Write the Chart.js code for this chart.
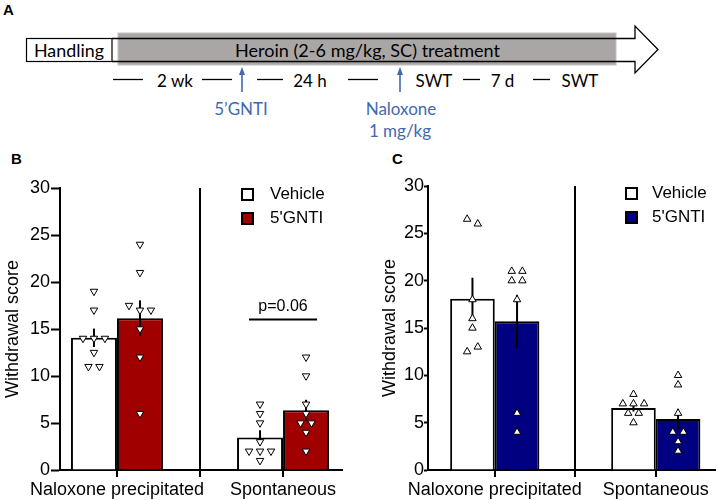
<!DOCTYPE html>
<html><head><meta charset="utf-8">
<script src="https://cdn.jsdelivr.net/npm/chart.js@4.4.0/dist/chart.umd.min.js"></script>
<style>
html,body{margin:0;padding:0;background:#fff;}
body{width:720px;height:500px;position:relative;overflow:hidden;font-family:"Liberation Sans",Arial,sans-serif;color:#000;}
.pl{position:absolute;font-weight:bold;font-size:15px;line-height:15px;}
canvas{position:absolute;}
.sq{position:absolute;width:13px;height:13px;box-sizing:border-box;border:2px solid #000;}
.lt{position:absolute;font-size:17px;line-height:20px;white-space:nowrap;}
#svgA{position:absolute;left:0;top:0;}
</style></head>
<body>
<svg id="svgA" width="720" height="150" xmlns="http://www.w3.org/2000/svg">
  <rect x="118" y="33" width="498" height="32" fill="#aaa6a6" stroke="#c4c2c2" stroke-width="1"/>
  <rect x="26.5" y="38.5" width="85.5" height="23" fill="#fff" stroke="#000" stroke-width="1.2"/>
  <path d="M112,38.5 H635 V26 L658,49.5 L635,73 V61.5 H112" fill="none" stroke="#000" stroke-width="1.3"/>
  <g font-family="Lato, 'Open Sans', sans-serif" fill="#000">
    <text x="69" y="56.5" font-size="18" text-anchor="middle" textLength="70" lengthAdjust="spacingAndGlyphs">Handling</text>
    <text x="367.5" y="56.5" font-size="18" text-anchor="middle" textLength="265" lengthAdjust="spacingAndGlyphs">Heroin (2-6 mg/kg, SC) treatment</text>
    <text x="175" y="86.5" font-size="17" text-anchor="middle">2 wk</text>
    <text x="310" y="86.5" font-size="17" text-anchor="middle">24 h</text>
    <text x="434" y="86.5" font-size="17" text-anchor="middle">SWT</text>
    <text x="502.5" y="86.5" font-size="17" text-anchor="middle">7 d</text>
    <text x="580" y="86.5" font-size="17" text-anchor="middle">SWT</text>
  </g>
  <g stroke="#000" stroke-width="1.3">
    <line x1="113" y1="79.5" x2="143" y2="79.5"/>
    <line x1="202" y1="79.5" x2="232" y2="79.5"/>
    <line x1="257" y1="79.5" x2="283" y2="79.5"/>
    <line x1="348" y1="79.5" x2="378" y2="79.5"/>
    <line x1="463" y1="79.5" x2="480" y2="79.5"/>
    <line x1="533" y1="79.5" x2="550" y2="79.5"/>
  </g>
  <g stroke="#4169b0" stroke-width="1.6" fill="#4169b0">
    <line x1="242" y1="92" x2="242" y2="72"/>
    <path d="M242,67 L245,75 L239,75 Z" stroke="none"/>
    <line x1="400" y1="92" x2="400" y2="72"/>
    <path d="M400,67 L403,75 L397,75 Z" stroke="none"/>
  </g>
  <g font-family="Lato, 'Open Sans', sans-serif" fill="#4169b0" font-size="17" text-anchor="middle">
    <text x="241" y="115">5’GNTI</text>
    <text x="401" y="115">Naloxone</text>
    <text x="400" y="137">1 mg/kg</text>
  </g>
</svg>
<div class="pl" style="left:3px;top:2px;">A</div>
<div class="pl" style="left:11px;top:151px;">B</div>
<div class="pl" style="left:392px;top:151px;">C</div>

<canvas id="cB" width="360" height="330" style="left:0;top:170px;"></canvas>
<canvas id="cC" width="360" height="330" style="left:360px;top:170px;"></canvas>

<div class="sq" style="left:241px;top:188px;background:#fff;"></div>
<div class="lt" style="left:270px;top:184px;">Vehicle</div>
<div class="sq" style="left:241px;top:212px;background:#a00000;"></div>
<div class="lt" style="left:270px;top:208px;">5'GNTI</div>

<div class="sq" style="left:625px;top:187px;background:#fff;"></div>
<div class="lt" style="left:652px;top:183px;">Vehicle</div>
<div class="sq" style="left:625px;top:211px;background:#000080;"></div>
<div class="lt" style="left:652px;top:207px;">5'GNTI</div>

<script>
// ---------- data ----------
const categories = ['Naloxone precipitated', 'Spontaneous'];
const groups = ['Vehicle', "5'GNTI"];
const yTicks = [0, 5, 10, 15, 20, 25, 30];

// Panel B
const bVehicleMean = [14.06, 3.45];
const bVehicleSem  = [0.98, 0.78];
const bGntiMean    = [16.15, 6.35];
const bGntiSem     = [1.9, 1.12];
const bVehiclePts  = [[19, 17, 14, 14, 14, 12.5, 11, 11], [7, 6, 5, 3, 2, 2, 2, 1]];
const bGntiPts     = [[24, 21, 17.5, 17, 17, 15, 12, 6], [12, 10, 7, 6, 5, 5, 4, 2]];
const bPText = 'p=0.06';
const bPLevel = 16;

// Panel C
const cVehicleMean = [18.1, 6.55];
const cVehicleSem  = [2.2, 0.37];
const cGntiMean    = [15.7, 5.4];
const cGntiSem     = [2.8, 1.08];
const cVehiclePts  = [[26.5, 26, 18, 16, 15, 12.5, 13], [8, 7, 7, 7, 6, 6, 5]];
const cGntiPts     = [[21, 21, 20, 20, 18, 6, 4], [10, 9, 6, 4, 4, 3, 2]];

// ---------- layout / style ----------
const BAR_W = 0.277;     // bar width in x units
const SLOT = 0.066;      // horizontal spacing of coinciding points (x units)
const CLOSE = 0.8;       // values closer than this are spread side by side
const FONT = '"Liberation Sans", Arial, sans-serif';

Chart.defaults.font.family = FONT;
Chart.defaults.color = '#000';

function swarm(values, center) {
  const out = [];
  let i = 0;
  while (i < values.length) {
    let j = i + 1;
    while (j < values.length && Math.abs(values[j] - values[j - 1]) < CLOSE) j++;
    const n = j - i;
    for (let k = 0; k < n; k++) out.push({x: center + (k - (n - 1) / 2) * SLOT, y: values[i + k]});
    i = j;
  }
  return out;
}

const annotPlugin = {
  id: 'annot',
  afterDatasetsDraw(chart, args, opts) {
    if (!opts || !opts.text) return;
    const {ctx, scales: {x, y}} = chart;
    const x0 = x.getPixelForValue(opts.center - opts.half);
    const x1 = x.getPixelForValue(opts.center + opts.half);
    const yy = y.getPixelForValue(opts.level);
    ctx.save();
    ctx.strokeStyle = '#000';
    ctx.lineWidth = 2;
    ctx.beginPath(); ctx.moveTo(x0, yy); ctx.lineTo(x1, yy); ctx.stroke();
    ctx.fillStyle = '#000';
    ctx.font = '16px ' + FONT;
    ctx.textAlign = 'center';
    ctx.textBaseline = 'alphabetic';
    ctx.fillText(opts.text, (x0 + x1) / 2, yy - 9);
    ctx.restore();
  }
};

function makePanel(id, p) {
  const datasets = [];
  const off = BAR_W / 2;
  datasets.push({
    type: 'bar', label: groups[0], order: 3,
    data: categories.map((c, i) => ({x: i, y: p.vMean[i]})),
    backgroundColor: '#fff', borderColor: '#000', borderWidth: 2, borderSkipped: 'bottom',
    categoryPercentage: 2 * BAR_W / 0.5, barPercentage: 1, inflateAmount: 0
  });
  datasets.push({
    type: 'bar', label: groups[1], order: 3,
    data: categories.map((c, i) => ({x: i, y: p.gMean[i]})),
    backgroundColor: p.fill, borderColor: '#000', borderWidth: 2, borderSkipped: 'bottom',
    categoryPercentage: 2 * BAR_W / 0.5, barPercentage: 1, inflateAmount: 0
  });
  categories.forEach((c, i) => {
    [[i - off, p.vMean[i], p.vSem[i]], [i + off, p.gMean[i], p.gSem[i]]].forEach(([cx, m, s]) => {
      datasets.push({
        type: 'line', order: 2,
        data: [{x: cx, y: m - s}, {x: cx, y: m + s}],
        borderColor: '#000', borderWidth: 2, pointRadius: 0, fill: false
      });
    });
  });
  categories.forEach((c, i) => {
    [[p.vPts[i], i - off], [p.gPts[i], i + off]].forEach(([vals, cx]) => {
      datasets.push({
        type: 'scatter', order: 1,
        data: swarm(vals, cx),
        pointStyle: 'triangle', rotation: p.rot, radius: 4.3,
        backgroundColor: '#fff', borderColor: '#000', borderWidth: 1
      });
    });
  });

  return new Chart(document.getElementById(id), {
    type: 'bar',
    data: {datasets},
    plugins: [annotPlugin],
    options: {
      responsive: false, animation: false, events: [],
      layout: {padding: p.pad},
      plugins: {legend: {display: false}, tooltip: {enabled: false}, annot: p.annot || {}},
      scales: {
        x: {
          type: 'linear', min: p.xmin, max: p.xmax, offset: false,
          afterBuildTicks: s => { s.ticks = [{value: 0}, {value: 0.5}, {value: 1}]; },
          afterFit: s => { s.height = 30; },
          ticks: {
            autoSkip: false, maxRotation: 0, minRotation: 0, padding: 2,
            font: {size: 18}, color: '#000',
            callback: v => (Number.isInteger(v) ? categories[v] : '')
          },
          grid: {
            offset: false,
            drawOnChartArea: true, lineWidth: 2, tickLength: 7, tickWidth: 2, tickColor: '#000',
            color: ctx => (ctx.tick && ctx.tick.value === 0.5 ? '#000' : 'rgba(0,0,0,0)')
          },
          border: {display: true, color: '#000', width: 2}
        },
        y: {
          type: 'linear', min: 0, max: 30,
          afterBuildTicks: s => { s.ticks = yTicks.map(v => ({value: v})); },
          afterFit: s => { s.width = p.yw; },
          ticks: {font: {size: 18}, color: '#000', padding: p.tpad},
          grid: {offset: false, drawOnChartArea: false, tickLength: p.tl, tickWidth: 2, tickColor: '#000'},
          border: {display: true, color: '#000', width: 2},
          title: {display: true, text: 'Withdrawal score', font: {size: 18}, color: '#000', padding: {top: 2, bottom: 0}}
        }
      }
    }
  });
}

makePanel('cB', {
  vMean: bVehicleMean, vSem: bVehicleSem, gMean: bGntiMean, gSem: bGntiSem,
  vPts: bVehiclePts, gPts: bGntiPts, fill: '#a00000', rot: 180,
  pad: {left: 0, right: 18, top: 18, bottom: 0}, yw: 60, tl: 9, tpad: 1,
  xmin: -0.343, xmax: 1.355,
  annot: {text: bPText, level: bPLevel, center: 1, half: 0.205}
});
makePanel('cC', {
  vMean: cVehicleMean, vSem: cVehicleSem, gMean: cGntiMean, gSem: cGntiSem,
  vPts: cVehiclePts, gPts: cGntiPts, fill: '#000080', rot: 0,
  pad: {left: 17, right: 0, top: 16, bottom: 0}, yw: 51, tl: 4, tpad: 0,
  xmin: -0.4146, xmax: 1.366
});
</script>
</body></html>
